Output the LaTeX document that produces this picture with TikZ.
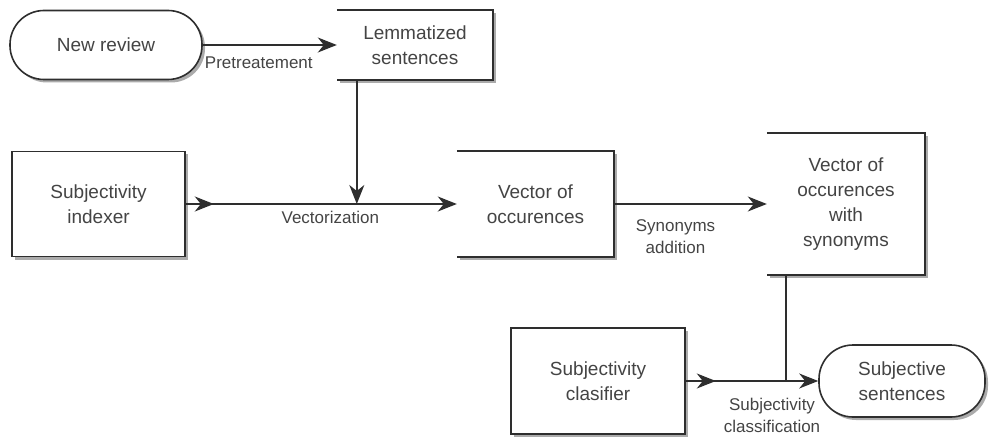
\documentclass[tikz,border=0pt]{standalone}
\usepackage{fontspec}
\setsansfont{Liberation Sans}
\usepackage{xcolor}
\definecolor{ink}{HTML}{2E2E2E}
\definecolor{txt}{HTML}{444444}
\usetikzlibrary{arrows.meta,positioning,calc,shadows}

\begin{document}
\begin{tikzpicture}[
  x=1pt, y=-1pt,
  font=\sffamily\fontsize{19}{25}\selectfont, text=txt,
  shade/.style={drop shadow={shadow xshift=3pt, shadow yshift=-3pt, fill=black!55, opacity=.6}},
  term/.style={draw=ink, line width=1.6pt, fill=white, shade, rounded corners=34pt, align=center},
  proc/.style={draw=ink, line width=1.6pt, fill=white, shade, align=center},
  store/.style={fill=white, shade, align=center},
  edge/.style={draw=ink, line width=1.8pt},
  arr/.style={edge, -{Stealth[length=19pt,width=15pt,inset=6pt]}},
  lbl/.style={font=\sffamily\fontsize{17}{22}\selectfont, align=center, inner sep=1pt}
]
  \useasboundingbox (0,0) rectangle (995,438);

  \node[term, minimum width=192pt, minimum height=69pt] (rev) at (106,45) {New review};
  \node[store, minimum width=156pt, minimum height=70pt] (lem) at (415,45) {Lemmatized\\sentences};
  \node[proc, minimum width=173pt, minimum height=105pt] (idx) at (98.5,204) {Subjectivity\\indexer};
  \node[store, minimum width=157pt, minimum height=106pt] (voc) at (535.5,204) {Vector of\\occurences};
  \node[store, minimum width=158pt, minimum height=141pt] (syn) at (846,204) {Vector of\\occurences\\with\\synonyms};
  \node[proc, minimum width=174pt, minimum height=106pt] (cls) at (598,381) {Subjectivity\\clasifier};
  \node[term, minimum width=166pt, minimum height=72pt] (out) at (902,381) {Subjective\\sentences};

  \foreach \n in {lem,voc,syn}
    \draw[edge] (\n.north west) -- (\n.north east) -- (\n.south east) -- (\n.south west);

  \draw[arr] (rev.east) -- node[lbl, below=10pt, xshift=-11pt] (pre) {Pretreatement} (lem.west);
  \coordinate (vjoin) at ([xshift=20pt]lem.south west |- idx.east);
  \draw[arr] ([xshift=20pt]lem.south west) -- (vjoin);
  \draw[arr] (idx.east) -- ++(28,0);
  \draw[arr] (idx.east) -- node[lbl, below=5pt, xshift=9pt] (vec) {Vectorization} (voc.west);
  \draw[arr] (voc.east) -- node[lbl, below=14pt, xshift=-15pt] (add) {Synonyms\\addition} (syn.west);
  \coordinate (hjoin) at ([xshift=19pt]syn.south west |- cls.east);
  \draw[edge] ([xshift=19pt]syn.south west) -- (hjoin);
  \draw[arr] (cls.east) -- ++(30,0);
  \draw[arr] (cls.east) -- node[lbl, below=15pt, xshift=20pt] (clf) {Subjectivity\\classification} (out.west);
\end{tikzpicture}
\end{document}
